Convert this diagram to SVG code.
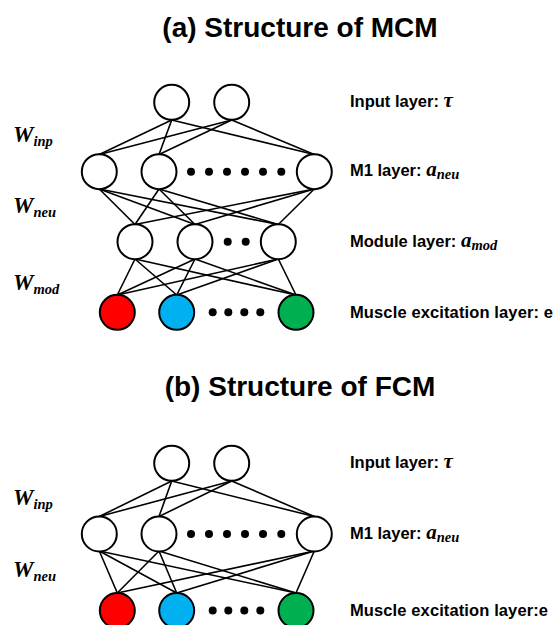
<svg xmlns="http://www.w3.org/2000/svg" width="556" height="625" viewBox="0 0 556 625">
<style>
.n{fill:#fff;stroke:#000;stroke-width:2}
.red{fill:#ff0000;stroke:#000;stroke-width:2}
.blue{fill:#00b0f0;stroke:#000;stroke-width:2}
.green{fill:#00b050;stroke:#000;stroke-width:2}
.c line{stroke:#000;stroke-width:1.6}
.dot{fill:#000}
.title{font-family:"Liberation Sans",Arial,sans-serif;font-weight:bold;font-size:28px;text-anchor:middle}
.lab{font-family:"Liberation Sans",Arial,sans-serif;font-weight:bold;font-size:16.5px}
.m{font-family:"Liberation Serif","Times New Roman",serif;font-weight:bold;font-style:italic}
.ma{font-size:21px}
.w{font-family:"Liberation Serif","Times New Roman",serif;font-weight:bold;font-style:italic;font-size:23px}
.sub{font-size:14.5px}
</style>
<defs>
<circle id="d" r="4"/>
</defs>
<text class="title" x="300" y="37">(a) Structure of MCM</text>
<text class="title" x="300" y="396">(b) Structure of FCM</text>

<!-- connectors (a) -->
<g id="connectors-a" class="c">
<line x1="171.7" y1="120" x2="99.3" y2="154.5"/>
<line x1="171.7" y1="120" x2="159" y2="154.5"/>
<line x1="171.7" y1="120" x2="314.3" y2="154.5"/>
<line x1="231.7" y1="120" x2="99.3" y2="154.5"/>
<line x1="231.7" y1="120" x2="159" y2="154.5"/>
<line x1="231.7" y1="120" x2="314.3" y2="154.5"/>

<line x1="99.3" y1="189" x2="135" y2="224.5"/>
<line x1="99.3" y1="189" x2="195" y2="224.5"/>
<line x1="99.3" y1="189" x2="278.3" y2="224.5"/>
<line x1="159" y1="189" x2="135" y2="224.5"/>
<line x1="159" y1="189" x2="195" y2="224.5"/>
<line x1="159" y1="189" x2="278.3" y2="224.5"/>
<line x1="314.3" y1="189" x2="135" y2="224.5"/>
<line x1="314.3" y1="189" x2="195" y2="224.5"/>
<line x1="314.3" y1="189" x2="278.3" y2="224.5"/>

<line x1="135" y1="259" x2="117.3" y2="295"/>
<line x1="135" y1="259" x2="176.7" y2="295"/>
<line x1="135" y1="259" x2="296" y2="295"/>
<line x1="195" y1="259" x2="117.3" y2="295"/>
<line x1="195" y1="259" x2="176.7" y2="295"/>
<line x1="195" y1="259" x2="296" y2="295"/>
<line x1="278.3" y1="259" x2="117.3" y2="295"/>
<line x1="278.3" y1="259" x2="176.7" y2="295"/>
<line x1="278.3" y1="259" x2="296" y2="295"/>
</g>

<!-- connectors (b) -->
<g id="connectors-b" class="c">
<line x1="171.7" y1="481" x2="99.3" y2="516.5"/>
<line x1="171.7" y1="481" x2="159" y2="516.5"/>
<line x1="171.7" y1="481" x2="314.3" y2="516.5"/>
<line x1="231.7" y1="481" x2="99.3" y2="516.5"/>
<line x1="231.7" y1="481" x2="159" y2="516.5"/>
<line x1="231.7" y1="481" x2="314.3" y2="516.5"/>

<line x1="99.3" y1="551" x2="117.3" y2="593"/>
<line x1="99.3" y1="551" x2="176.7" y2="593"/>
<line x1="99.3" y1="551" x2="296" y2="593"/>
<line x1="159" y1="551" x2="117.3" y2="593"/>
<line x1="159" y1="551" x2="176.7" y2="593"/>
<line x1="159" y1="551" x2="296" y2="593"/>
<line x1="314.3" y1="551" x2="117.3" y2="593"/>
<line x1="314.3" y1="551" x2="176.7" y2="593"/>
<line x1="314.3" y1="551" x2="296" y2="593"/>
</g>

<!-- nodes (a) -->
<g id="a-input-1"><circle class="n" cx="171.7" cy="102.3" r="17.5"/></g>
<g id="a-input-2"><circle class="n" cx="231.7" cy="102.3" r="17.5"/></g>
<g id="a-m1-1"><circle class="n" cx="99.3" cy="171.7" r="17.5"/></g>
<g id="a-m1-2"><circle class="n" cx="159" cy="171.7" r="17.5"/></g>
<g id="a-m1-3"><circle class="n" cx="314.3" cy="171.7" r="17.5"/></g>
<g id="a-m1-dots" class="dot">
<use href="#d" x="191" y="171.7"/><use href="#d" x="209" y="171.7"/><use href="#d" x="227" y="171.7"/>
<use href="#d" x="245" y="171.7"/><use href="#d" x="263" y="171.7"/><use href="#d" x="281.3" y="171.7"/>
</g>
<g id="a-mod-1"><circle class="n" cx="135" cy="241.7" r="17.5"/></g>
<g id="a-mod-2"><circle class="n" cx="195" cy="241.7" r="17.5"/></g>
<g id="a-mod-3"><circle class="n" cx="278.3" cy="241.7" r="17.5"/></g>
<g id="a-mod-dots" class="dot">
<use href="#d" x="227.7" y="241.7"/><use href="#d" x="245.7" y="241.7"/>
</g>
<g id="a-mus-1"><circle class="red" cx="117.3" cy="312.3" r="17.5"/></g>
<g id="a-mus-2"><circle class="blue" cx="176.7" cy="312.3" r="17.5"/></g>
<g id="a-mus-3"><circle class="green" cx="296" cy="312.3" r="17.5"/></g>
<g id="a-mus-dots" class="dot">
<use href="#d" x="212.7" y="312.3"/><use href="#d" x="228.3" y="312.3"/><use href="#d" x="244.3" y="312.3"/><use href="#d" x="260.3" y="312.3"/>
</g>

<!-- nodes (b) -->
<g id="b-input-1"><circle class="n" cx="171.7" cy="463.3" r="17.5"/></g>
<g id="b-input-2"><circle class="n" cx="231.7" cy="463.3" r="17.5"/></g>
<g id="b-m1-1"><circle class="n" cx="99.3" cy="534" r="17.5"/></g>
<g id="b-m1-2"><circle class="n" cx="159" cy="534" r="17.5"/></g>
<g id="b-m1-3"><circle class="n" cx="314.3" cy="534" r="17.5"/></g>
<g id="b-m1-dots" class="dot">
<use href="#d" x="191" y="534"/><use href="#d" x="209" y="534"/><use href="#d" x="227" y="534"/>
<use href="#d" x="245" y="534"/><use href="#d" x="263" y="534"/><use href="#d" x="281.3" y="534"/>
</g>
<g id="b-mus-1"><circle class="red" cx="117.3" cy="610.5" r="17.5"/></g>
<g id="b-mus-2"><circle class="blue" cx="176.7" cy="610.5" r="17.5"/></g>
<g id="b-mus-3"><circle class="green" cx="296" cy="610.5" r="17.5"/></g>
<g id="b-mus-dots" class="dot">
<use href="#d" x="212.7" y="610.5"/><use href="#d" x="228.3" y="610.5"/><use href="#d" x="244.3" y="610.5"/><use href="#d" x="260.3" y="610.5"/>
</g>

<!-- layer labels -->
<text class="lab" x="350" y="107">Input layer: <tspan class="m ma">τ</tspan></text>
<text class="lab" x="350" y="176">M1 layer: <tspan class="m ma">a</tspan><tspan class="m sub" dy="3">neu</tspan></text>
<text class="lab" x="350" y="247">Module layer: <tspan class="m ma">a</tspan><tspan class="m sub" dy="3">mod</tspan></text>
<text class="lab" x="350" y="318" textLength="203">Muscle excitation layer: e</text>

<text class="lab" x="350" y="468">Input layer: <tspan class="m ma">τ</tspan></text>
<text class="lab" x="350" y="539">M1 layer: <tspan class="m ma">a</tspan><tspan class="m sub" dy="3">neu</tspan></text>
<text class="lab" x="350" y="616" textLength="198">Muscle excitation layer:e</text>

<!-- weight labels -->
<text class="w" x="13" y="142">W<tspan class="sub" dy="4">inp</tspan></text>
<text class="w" x="13" y="213">W<tspan class="sub" dy="4">neu</tspan></text>
<text class="w" x="13" y="290">W<tspan class="sub" dy="4">mod</tspan></text>
<text class="w" x="13" y="505">W<tspan class="sub" dy="4">inp</tspan></text>
<text class="w" x="13" y="577">W<tspan class="sub" dy="4">neu</tspan></text>
</svg>
